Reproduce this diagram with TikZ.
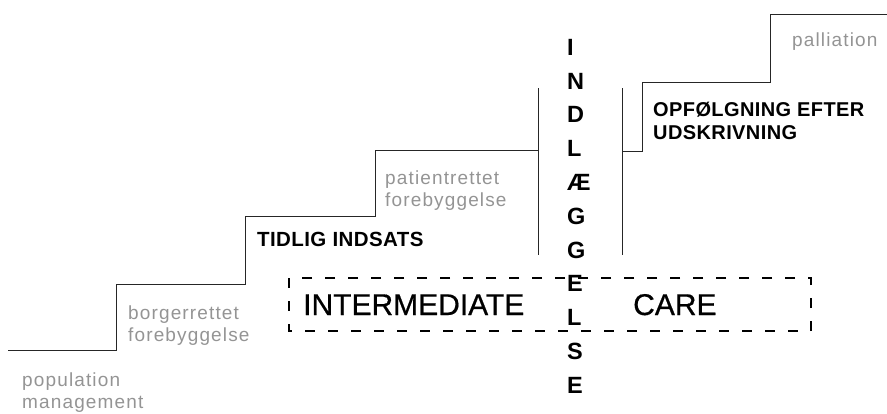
\documentclass[tikz,border=0pt]{standalone}
\usepackage{fontspec}
\setmainfont{Liberation Sans}
\newfontfamily\grayf[LetterSpace=6]{Liberation Sans}
\newfontfamily\boldf[LetterSpace=2]{Liberation Sans Bold}
\newfontfamily\bigf[FakeBold=0.6]{Liberation Sans}
\begin{document}
\begin{tikzpicture}[x=1pt,y=-1pt,
  stair/.style={line width=1pt,black!85},
  graytext/.style={font=\grayf\fontsize{19}{22}\selectfont,text=black!42,align=left,anchor=north west,inner sep=0pt},
  blacktext/.style={font=\boldf\fontsize{20}{23}\selectfont,align=left,anchor=north west,inner sep=0pt},
  bigtext/.style={font=\bigf\fontsize{30}{34}\selectfont,anchor=base west,inner sep=0pt},
  vertword/.style={font=\bfseries\fontsize{23.5}{33.8}\selectfont,align=left,anchor=north west,inner sep=0pt},
  dashbox/.style={line width=2pt,dash pattern=on 10pt off 13pt}]
\useasboundingbox (0,0) rectangle (887,413);
% staircase left
\draw[stair] (8,350) -- (116,350) -- (116,284) -- (245,284) -- (245,216) -- (375,216) -- (375,150) -- (538,150);
\draw[stair] (538,88) -- (538,255);
% staircase right
\draw[stair] (622,88) -- (622,255);
\draw[stair] (622,151) -- (642,151) -- (642,82) -- (770,82) -- (770,14) -- (887,14);
% dashed box
\draw[dashbox] (289,278) rectangle (811,331);
% texts
\node[graytext] (pop) at (22,373) {population\\management};
\node[graytext] (borg) at (128,306) {borgerrettet\\forebyggelse};
\node[graytext] (pat) at (385,171) {patientrettet\\forebyggelse};
\node[graytext] (pal) at (792,33) {palliation};
\node[blacktext,font=\boldf\fontsize{20.5}{23}\selectfont] (tid) at (257,232) {TIDLIG INDSATS};
\node[blacktext] (opf) at (653,102) {OPFØLGNING EFTER\\UDSKRIVNING};
\node[vertword] (indl) at (567,39) {I\\N\\D\\L\\Æ\\G\\G\\E\\L\\S\\E};
\node[bigtext] (inter) at (303,315) {INTERMEDIATE};
\node[bigtext] (care) at (633,315) {CARE};
\end{tikzpicture}
\end{document}
